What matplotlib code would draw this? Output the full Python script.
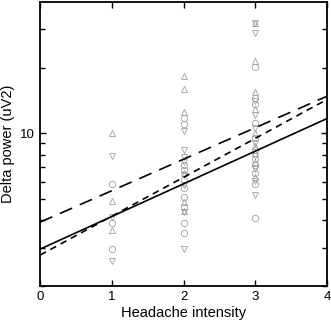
import matplotlib
matplotlib.use("Agg")
import matplotlib.pyplot as plt
from matplotlib import ticker

plt.rcParams['font.family'] = ['Liberation Sans', 'DejaVu Sans']

# delta power per subject at each headache intensity, split by marker group
circ_x = [1, 1, 1,
          2, 2, 2, 2, 2, 2, 2, 2, 2, 2,
          3, 3, 3, 3, 3, 3, 3, 3, 3, 3, 3]
circ_y = [5.85, 3.9, 2.95,
          11.8, 11.0, 7.14, 6.78, 6.1, 5.6, 5.1, 4.59, 3.88, 3.49,
          20.2, 14.6, 13.6, 11.2, 9.5, 8.4, 7.6, 7.14, 6.57, 5.85, 4.09]

up_x = [1, 1, 1,
        2, 2, 2, 2, 2, 2,
        3, 3, 3, 3, 3, 3, 3, 3, 3]
up_y = [10.0, 4.9, 3.6,
        18.4, 16.0, 12.5, 6.6, 4.84, 4.4,
        32.1, 21.5, 15.4, 13.0, 10.0, 8.8, 8.1, 7.37, 6.29]

down_x = [1, 1, 1,
          2, 2, 2, 2, 2, 2, 2, 2,
          3, 3, 3, 3, 3, 3, 3, 3, 3, 3]
down_y = [7.9, 4.15, 2.6,
          10.3, 8.4, 7.77, 7.37, 6.43, 5.79, 4.36, 2.96,
          32.1, 28.9, 14.1, 12.1, 10.6, 9.0, 7.85, 6.85, 6.04, 5.2]

# fitted lines, values at intensity 0 and 4
fit_x = [0, 4]
fit_solid = [2.95, 11.7]
fit_long = [3.92, 14.8]
fit_short = [2.77, 14.3]

fig = plt.figure(figsize=(3.31, 3.25), dpi=100)
ax = fig.add_axes([0.121, 0.12, 0.867, 0.874])

gray = '0.62'
for xs, ys, m in [(circ_x, circ_y, 'o'), (up_x, up_y, '^'), (down_x, down_y, 'v')]:
    ax.plot(xs, ys, m, mfc='none', mec=gray, ms=4.6, mew=0.6)

ax.plot(fit_x, fit_solid, color='black', lw=1.2, ls='-')
ax.plot(fit_x, fit_long, color='black', lw=1.2, ls=(0, (8, 5)))
ax.plot(fit_x, fit_short, color='black', lw=1.2, ls=(0, (4, 3)))

ax.set_yscale('log')
ax.set_xlim(0, 4)
ax.set_ylim(2, 40)
ax.set_xticks([0, 1, 2, 3, 4])
ax.yaxis.set_major_locator(ticker.FixedLocator([10]))
ax.yaxis.set_minor_locator(ticker.FixedLocator([2, 3, 4, 5, 6, 7, 8, 9, 20, 30]))
ax.yaxis.set_major_formatter(ticker.FixedFormatter(['10']))
ax.yaxis.set_minor_formatter(ticker.NullFormatter())

ax.tick_params(which='both', direction='in', top=True, right=True, labelsize=9.5, width=1)
ax.tick_params(which='major', length=4.5)
ax.tick_params(which='minor', length=3.5)
for s in ax.spines.values():
    s.set_linewidth(1.3)

ax.set_xlabel('Headache intensity', fontsize=10.5, labelpad=2)
ax.set_ylabel('Delta power (uV2)', fontsize=10.5, labelpad=4)

fig.savefig('out.png', dpi=100)
